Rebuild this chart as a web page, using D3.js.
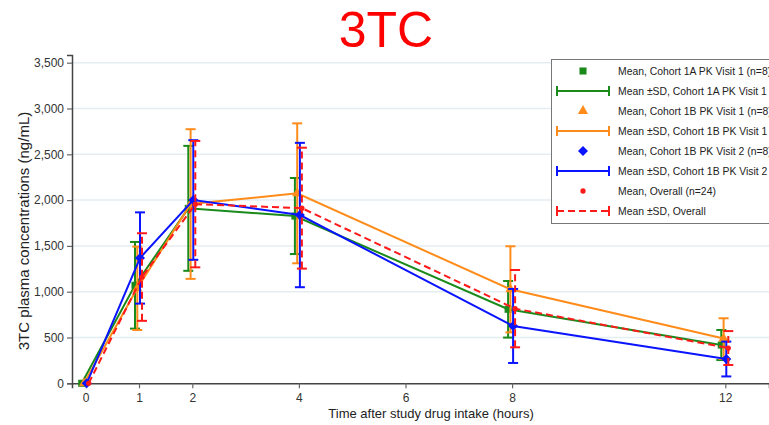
<!DOCTYPE html>
<html>
<head>
<meta charset="utf-8">
<script src="https://cdn.jsdelivr.net/npm/d3@7"></script>
<style>
  body { margin: 0; background: #fff; }
  svg { display: block; font-family: "Liberation Sans", Arial, sans-serif; }
</style>
</head>
<body>
<svg id="chart" width="769" height="425"></svg>
<script>
// Time points (hours)
var times = [0, 1, 2, 4, 8, 12];
var xTicks = [0, 1, 2, 4, 6, 8, 12];
var yTicks = [0, 500, 1000, 1500, 2000, 2500, 3000, 3500];

// Mean and SD per group (ng/mL)
var mean1A = [0, 1070, 1910, 1826, 808, 418];
var sd1A   = [0, 473, 682, 415, 309, 164];
var mean1B1 = [0, 1037, 1957, 2074, 1026, 488];
var sd1B1   = [0, 455, 817, 764, 470, 222];
var mean1B2 = [0, 1368, 2001, 1837, 626, 265];
var sd1B2   = [0, 498, 653, 788, 404, 190];
var meanAll = [0, 1160, 1956, 1912, 815, 385];
var sdAll   = [0, 478, 690, 660, 422, 185];

var legendLabels = [
  "Mean, Cohort 1A PK Visit 1 (n=8)", "Mean \u00b1SD, Cohort 1A PK Visit 1",
  "Mean, Cohort 1B PK Visit 1 (n=8)", "Mean \u00b1SD, Cohort 1B PK Visit 1",
  "Mean, Cohort 1B PK Visit 2 (n=8)", "Mean \u00b1SD, Cohort 1B PK Visit 2",
  "Mean, Overall (n=24)", "Mean \u00b1SD, Overall"
];

var series = [
  { mean: mean1A,  sd: sd1A,  color: "#1a8a1a", shape: d3.symbolSquare,   size: 50, rot: 0,  dodge: -4,   dash: null },
  { mean: mean1B1, sd: sd1B1, color: "#ff8c1a", shape: d3.symbolTriangle, size: 45, rot: 0,  dodge: -1.7, dash: null },
  { mean: mean1B2, sd: sd1B2, color: "#0a14ff", shape: d3.symbolSquare,   size: 50, rot: 45, dodge: 1,    dash: null },
  { mean: meanAll, sd: sdAll, color: "#ff1a1a", shape: d3.symbolCircle,   size: 22, rot: 0,  dodge: 3,    dash: "7,4" }
];

var svg = d3.select("#chart");

var x = d3.scaleLinear().domain([-0.257, 12.82]).range([72, 769]);
var y = d3.scaleLinear().domain([0, 3584]).range([383.3, 55]);

// Title
svg.append("text")
  .attr("x", 386).attr("y", 47)
  .attr("text-anchor", "middle")
  .attr("fill", "#ff0000")
  .attr("font-size", 50)
  .text("3TC");

// Gridlines
svg.append("g")
  .selectAll("line")
  .data(yTicks.slice(1))
  .enter().append("line")
  .attr("x1", 72).attr("x2", 769)
  .attr("y1", function(d) { return y(d); })
  .attr("y2", function(d) { return y(d); })
  .attr("stroke", "#e4edf0")
  .attr("stroke-width", 1.5);

// Axes
var yAxis = svg.append("g")
  .attr("transform", "translate(72,0)")
  .call(d3.axisLeft(y).tickValues(yTicks).tickSize(5).tickPadding(3).tickFormat(d3.format(",")));
var xAxis = svg.append("g")
  .attr("transform", "translate(0,383.3)")
  .call(d3.axisBottom(x).tickValues(xTicks).tickSize(5).tickPadding(5));

[yAxis, xAxis].forEach(function(ax) {
  ax.select(".domain").attr("stroke", "#444").attr("stroke-width", 1.5);
  ax.selectAll(".tick line").attr("stroke", "#666").attr("stroke-width", 1.2);
  ax.selectAll(".tick text").attr("fill", "#333").attr("font-size", 12)
    .attr("font-family", "Liberation Sans, Arial, sans-serif");
});

// Axis titles
svg.append("text")
  .attr("x", 431).attr("y", 418)
  .attr("text-anchor", "middle")
  .attr("fill", "#222")
  .attr("font-size", 13)
  .text("Time after study drug intake (hours)");

svg.append("text")
  .attr("transform", "translate(29,231) rotate(-90)")
  .attr("text-anchor", "middle")
  .attr("fill", "#222")
  .attr("font-size", 15)
  .text("3TC plasma concentrations (ng/mL)");

// Series
var plot = svg.append("g");
series.forEach(function(s) {
  var pts = times.map(function(t, i) {
    return { cx: x(t) + s.dodge, m: s.mean[i], sd: s.sd[i] };
  });
  var g = plot.append("g");

  // Error bars
  var eb = g.selectAll(".eb").data(pts.filter(function(p) { return p.sd > 0; }))
    .enter().append("g");
  eb.append("line")
    .attr("x1", function(p) { return p.cx; }).attr("x2", function(p) { return p.cx; })
    .attr("y1", function(p) { return y(p.m - p.sd); })
    .attr("y2", function(p) { return y(p.m + p.sd); })
    .attr("stroke", s.color).attr("stroke-width", 2)
    .attr("stroke-dasharray", s.dash);
  [-1, 1].forEach(function(sign) {
    eb.append("line")
      .attr("x1", function(p) { return p.cx - 5; }).attr("x2", function(p) { return p.cx + 5; })
      .attr("y1", function(p) { return y(p.m + sign * p.sd); })
      .attr("y2", function(p) { return y(p.m + sign * p.sd); })
      .attr("stroke", s.color).attr("stroke-width", 2);
  });

  // Mean line
  g.append("path")
    .datum(pts)
    .attr("d", d3.line().x(function(p) { return p.cx; }).y(function(p) { return y(p.m); }))
    .attr("fill", "none")
    .attr("stroke", s.color).attr("stroke-width", 2)
    .attr("stroke-dasharray", s.dash);

  // Markers
  g.selectAll(".mk").data(pts).enter().append("path")
    .attr("transform", function(p) { return "translate(" + p.cx + "," + y(p.m) + ") rotate(" + s.rot + ")"; })
    .attr("d", d3.symbol().type(s.shape).size(s.size))
    .attr("fill", s.color);
});

// Legend (clipped at the right edge, as in the original)
var lg = svg.append("g").attr("transform", "translate(551,59)");
lg.append("rect")
  .attr("x", 0.5).attr("y", 0.5).attr("width", 240).attr("height", 164)
  .attr("fill", "#fff").attr("stroke", "#777").attr("stroke-width", 1);

legendLabels.forEach(function(label, i) {
  var s = series[Math.floor(i / 2)];
  var cy = 12 + i * 20;
  var row = lg.append("g").attr("transform", "translate(0," + cy + ")");
  if (i % 2 === 0) {
    row.append("path")
      .attr("transform", "translate(32,0) rotate(" + s.rot + ")")
      .attr("d", d3.symbol().type(s.shape).size(s.size))
      .attr("fill", s.color);
  } else {
    row.append("line").attr("x1", 6).attr("x2", 58).attr("y1", 0).attr("y2", 0)
      .attr("stroke", s.color).attr("stroke-width", 2).attr("stroke-dasharray", s.dash);
    [6, 58].forEach(function(xx) {
      row.append("line").attr("x1", xx).attr("x2", xx).attr("y1", -5).attr("y2", 5)
        .attr("stroke", s.color).attr("stroke-width", 2);
    });
  }
  row.append("text")
    .attr("x", 67).attr("y", 4)
    .attr("fill", "#222")
    .attr("font-size", 10.4)
    .text(label);
});
</script>
</body>
</html>
